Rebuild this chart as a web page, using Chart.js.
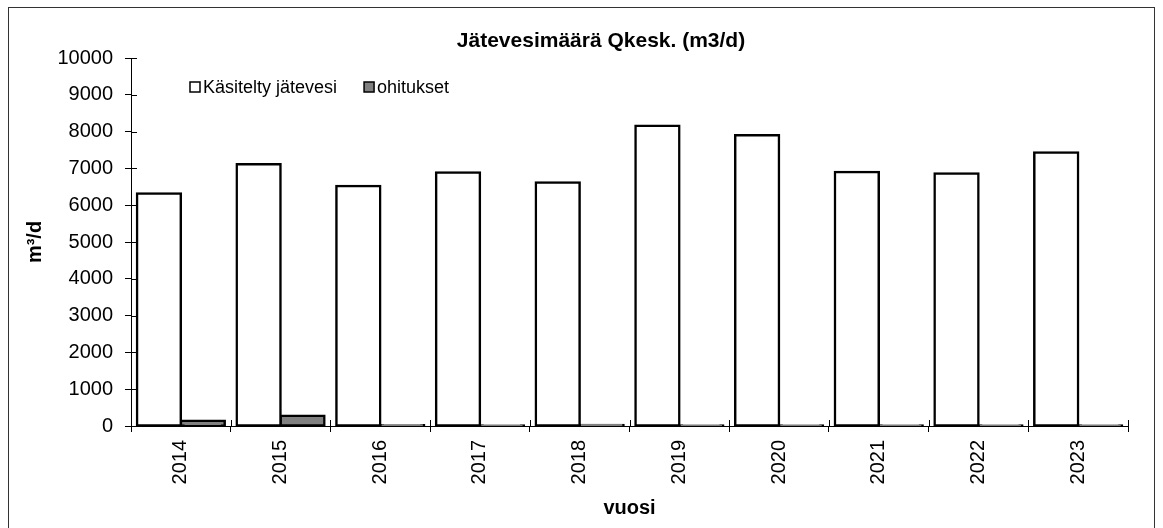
<!DOCTYPE html>
<html>
<head>
<meta charset="utf-8">
<title>Jätevesimäärä Qkesk.</title>
<script src="https://cdn.jsdelivr.net/npm/chart.js@4/dist/chart.umd.min.js"></script>
<style>
  html, body { margin: 0; padding: 0; background: #fff; }
  #wrap { width: 1163px; height: 528px; }
  canvas { display: block; }
</style>
</head>
<body>
<div id="wrap"><canvas id="chart" width="1163" height="528"></canvas></div>
<script>
// Vuosittaiset keskimääräiset jätevesimäärät (m3/d)
const years = ['2014', '2015', '2016', '2017', '2018', '2019', '2020', '2021', '2022', '2023'];
const kasitelty = [6320, 7110, 6520, 6890, 6620, 8160, 7900, 6900, 6860, 7430];
const ohitukset = [140, 280, 20, 15, 25, 15, 15, 15, 15, 15];
const seriesNames = ['Käsitelty jätevesi', 'ohitukset'];
const chartTitle = 'Jätevesimäärä Qkesk. (m3/d)';
const yTitle = 'm³/d';
const xTitle = 'vuosi';
const yMin = 0, yMax = 10000, yStep = 1000;

const FONT = '"Liberation Sans", Arial, sans-serif';

// White page with a thin frame round the whole chart
const framePlugin = {
  id: 'frame',
  beforeDraw(chart) {
    const ctx = chart.ctx;
    ctx.save();
    ctx.fillStyle = '#fff';
    ctx.fillRect(0, 0, chart.width, chart.height);
    ctx.strokeStyle = '#333';
    ctx.lineWidth = 1;
    ctx.strokeRect(8.5, 7.5, 1146, 530);
    ctx.restore();
  }
};

// Tick marks that cross the axis lines
const crossTicksPlugin = {
  id: 'crossTicks',
  afterDatasetsDraw(chart) {
    const { ctx, scales: { x, y } } = chart;
    ctx.save();
    ctx.strokeStyle = '#000';
    ctx.lineWidth = 1;
    ctx.beginPath();
    y.ticks.forEach((t, i) => {
      const py = Math.round(y.getPixelForTick(i)) + 0.5;
      ctx.moveTo(y.right, py);
      ctx.lineTo(y.right + 6, py);
    });
    for (let i = 0; i <= x.ticks.length; i++) {
      const px = Math.round(x.getPixelForValue(i - 0.5)) + 0.5;
      ctx.moveTo(px, x.top);
      ctx.lineTo(px, x.top - 6);
    }
    ctx.stroke();
    ctx.restore();
  }
};

// Chart heading and the series key inside the plot
const headerPlugin = {
  id: 'header',
  afterDraw(chart) {
    const ctx = chart.ctx;
    ctx.save();
    ctx.fillStyle = '#000';
    ctx.font = 'bold 21px ' + FONT;
    ctx.textAlign = 'center';
    ctx.textBaseline = 'alphabetic';
    ctx.fillText(chartTitle, 601, 47);

    ctx.font = '18px ' + FONT;
    ctx.textAlign = 'left';
    ctx.textBaseline = 'middle';
    let kx = 190;
    const ky = 87;
    chart.data.datasets.forEach(ds => {
      ctx.fillStyle = ds.backgroundColor;
      ctx.fillRect(kx, ky - 5, 10, 10);
      ctx.strokeStyle = '#000';
      ctx.lineWidth = 1.5;
      ctx.strokeRect(kx, ky - 5, 10, 10);
      ctx.fillStyle = '#000';
      ctx.fillText(ds.label, kx + 13, ky + 1);
      kx += 13 + ctx.measureText(ds.label).width + 27;
    });
    ctx.restore();
  }
};

const barStyle = {
  borderColor: '#000000',
  borderWidth: 2.5,
  borderSkipped: false,
  inflateAmount: 1.25
};

new Chart(document.getElementById('chart'), {
  type: 'bar',
  data: {
    labels: years,
    datasets: [
      Object.assign({ label: seriesNames[0], data: kasitelty, backgroundColor: '#ffffff' }, barStyle),
      Object.assign({ label: seriesNames[1], data: ohitukset, backgroundColor: '#808080' }, barStyle)
    ]
  },
  options: {
    responsive: false,
    animation: false,
    devicePixelRatio: 1,
    layout: { padding: { top: 58, right: 35, bottom: 0, left: 0 } },
    datasets: { bar: { barPercentage: 1.0, categoryPercentage: 0.88 } },
    plugins: {
      legend: { display: false },
      title: { display: false },
      tooltip: { enabled: false }
    },
    scales: {
      x: {
        ticks: {
          color: '#000',
          font: { family: FONT, size: 20 },
          minRotation: 90,
          maxRotation: 90,
          padding: 8,
          autoSkip: false
        },
        grid: { drawOnChartArea: false, drawTicks: true, tickLength: 6, color: '#000', offset: true },
        border: { display: true, color: '#000', width: 1 },
        title: {
          display: true,
          text: xTitle,
          color: '#000',
          font: { family: FONT, size: 20, weight: 'bold' },
          padding: { top: 0, bottom: 8 }
        },
        afterFit(scale) { scale.height = 102; }
      },
      y: {
        min: yMin,
        max: yMax,
        ticks: {
          stepSize: yStep,
          color: '#000',
          font: { family: FONT, size: 20 },
          padding: 12,
          callback: (value) => String(value)
        },
        grid: { drawOnChartArea: false, drawTicks: true, tickLength: 6, color: '#000' },
        border: { display: true, color: '#000', width: 1 },
        title: {
          display: true,
          text: yTitle,
          color: '#000',
          font: { family: FONT, size: 20, weight: 'bold' },
          padding: { top: 23, bottom: 0 }
        },
        afterFit(scale) { scale.width = 131; }
      }
    }
  },
  plugins: [framePlugin, crossTicksPlugin, headerPlugin]
});
</script>
</body>
</html>
